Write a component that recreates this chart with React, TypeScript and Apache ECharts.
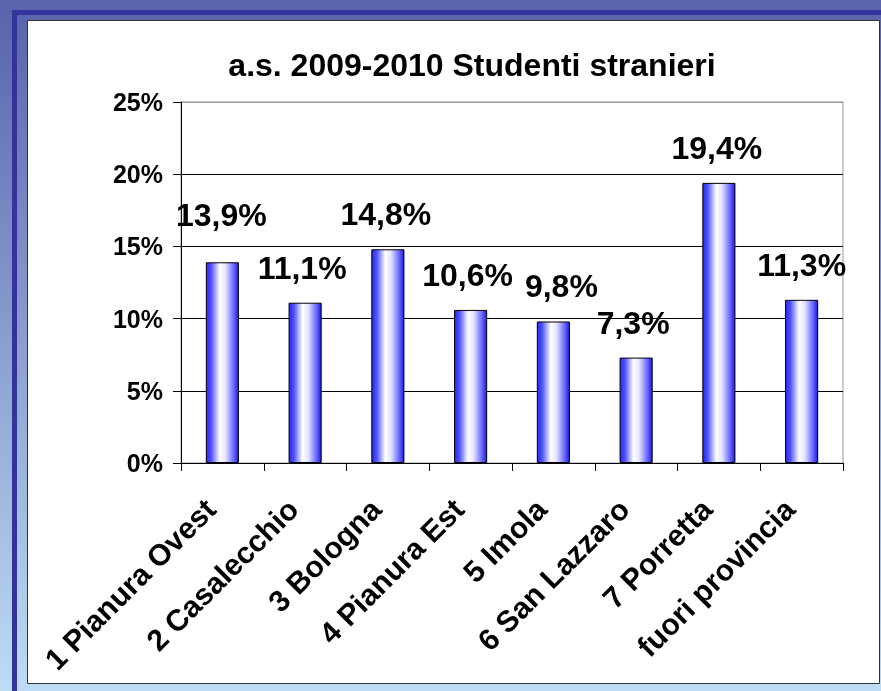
import React, { useEffect, useRef } from "react";
import * as echarts from "echarts";

const categories = [
  "1 Pianura Ovest",
  "2 Casalecchio",
  "3 Bologna",
  "4 Pianura Est",
  "5 Imola",
  "6 San Lazzaro",
  "7 Porretta",
  "fuori provincia",
];
const values = [13.9, 11.1, 14.8, 10.6, 9.8, 7.3, 19.4, 11.3];
const yTicks = [0, 5, 10, 15, 20, 25];
const titleText = "a.s. 2009-2010 Studenti stranieri";

// label nudges (layout only)
const labelNudges: [number, number][] = [
  [-1, -12],
  [-3, 0],
  [-2, 0],
  [-3, 0],
  [8, 0],
  [-3, 0],
  [-2, 0],
  [0, 0],
];

const FONT = "'Liberation Sans', Arial, sans-serif";

export default function App() {
  const ref = useRef<HTMLDivElement>(null);
  useEffect(() => {
    if (!ref.current) return;
    const chart = echarts.init(ref.current, undefined, { renderer: "svg" });
    const barGradient = new echarts.graphic.LinearGradient(0, 0, 1, 0, [
      { offset: 0, color: "#2828f0" },
      { offset: 0.15, color: "#5050ff" },
      { offset: 0.42, color: "#ffffff" },
      { offset: 0.6, color: "#e2e2ff" },
      { offset: 0.85, color: "#6868ff" },
      { offset: 1, color: "#1c1ce0" },
    ]);
    chart.setOption({
      animation: false,
      textStyle: { fontFamily: FONT },
      graphic: [
        {
          type: "rect",
          z: -10,
          silent: true,
          shape: { x: 0, y: 0, width: 881, height: 691 },
          style: {
            fill: new echarts.graphic.LinearGradient(0, 0, 0, 1, [
              { offset: 0, color: "#5862ac" },
              { offset: 1, color: "#bddcf4" },
            ]),
          },
        },
        {
          type: "rect",
          z: -9,
          silent: true,
          shape: { x: 12, y: 10, width: 869, height: 5 },
          style: { fill: "#333399" },
        },
        {
          type: "rect",
          z: -9,
          silent: true,
          shape: { x: 12, y: 10, width: 5, height: 681 },
          style: { fill: "#333399" },
        },
        {
          type: "rect",
          z: -8,
          silent: true,
          shape: { x: 27.5, y: 20.5, width: 852, height: 663 },
          style: { fill: "#ffffff", stroke: "#333333", lineWidth: 1 },
        },
      ],
      title: {
        text: titleText,
        left: 467,
        top: 44,
        textAlign: "center",
        textStyle: {
          fontFamily: FONT,
          fontWeight: "bold",
          fontSize: 32,
          color: "#000",
        },
      },
      grid: {
        left: 181,
        right: 38,
        top: 102,
        bottom: 228,
        show: true,
        borderColor: "#999999",
        borderWidth: 1,
        backgroundColor: "transparent",
      },
      xAxis: {
        type: "category",
        data: categories,
        axisLine: { lineStyle: { color: "#000", width: 1 } },
        axisTick: { show: true, inside: false, length: 8, lineStyle: { color: "#000" } },
        axisLabel: {
          rotate: 45,
          interval: 0,
          margin: 29,
          padding: [0, 17, 0, 0],
          fontFamily: FONT,
          fontWeight: "bold",
          fontSize: 30,
          color: "#000",
        },
      },
      yAxis: {
        type: "value",
        min: 0,
        max: 25,
        interval: 5,
        axisLine: { show: true, lineStyle: { color: "#000", width: 1 } },
        axisTick: { show: true, inside: false, length: 8, lineStyle: { color: "#000" } },
        axisLabel: {
          margin: 18,
          formatter: (v: number) => `${v}%`,
          fontFamily: FONT,
          fontWeight: "bold",
          fontSize: 25,
          color: "#000",
        },
        splitLine: {
          show: true,
          lineStyle: {
            color: yTicks.map((t) => (t === 25 ? "#999999" : "#000000")),
            width: 1,
          },
        },
      },
      series: [
        {
          type: "bar",
          barWidth: "40%",
          data: values.map((v, i) => ({
            value: v,
            label: { offset: labelNudges[i] },
          })),
          itemStyle: {
            color: barGradient,
            borderColor: "#000",
            borderWidth: 1,
          },
          label: {
            show: true,
            position: "top",
            distance: 19,
            formatter: (p: any) => `${p.value.toFixed(1).replace(".", ",")}%`,
            fontFamily: FONT,
            fontWeight: "bold",
            fontSize: 32,
            color: "#000",
          },
        },
      ],
    });
    return () => chart.dispose();
  }, []);
  return (
    <div
      ref={ref}
      style={{ position: "fixed", left: 0, top: 0, width: 881, height: 691 }}
    />
  );
}
